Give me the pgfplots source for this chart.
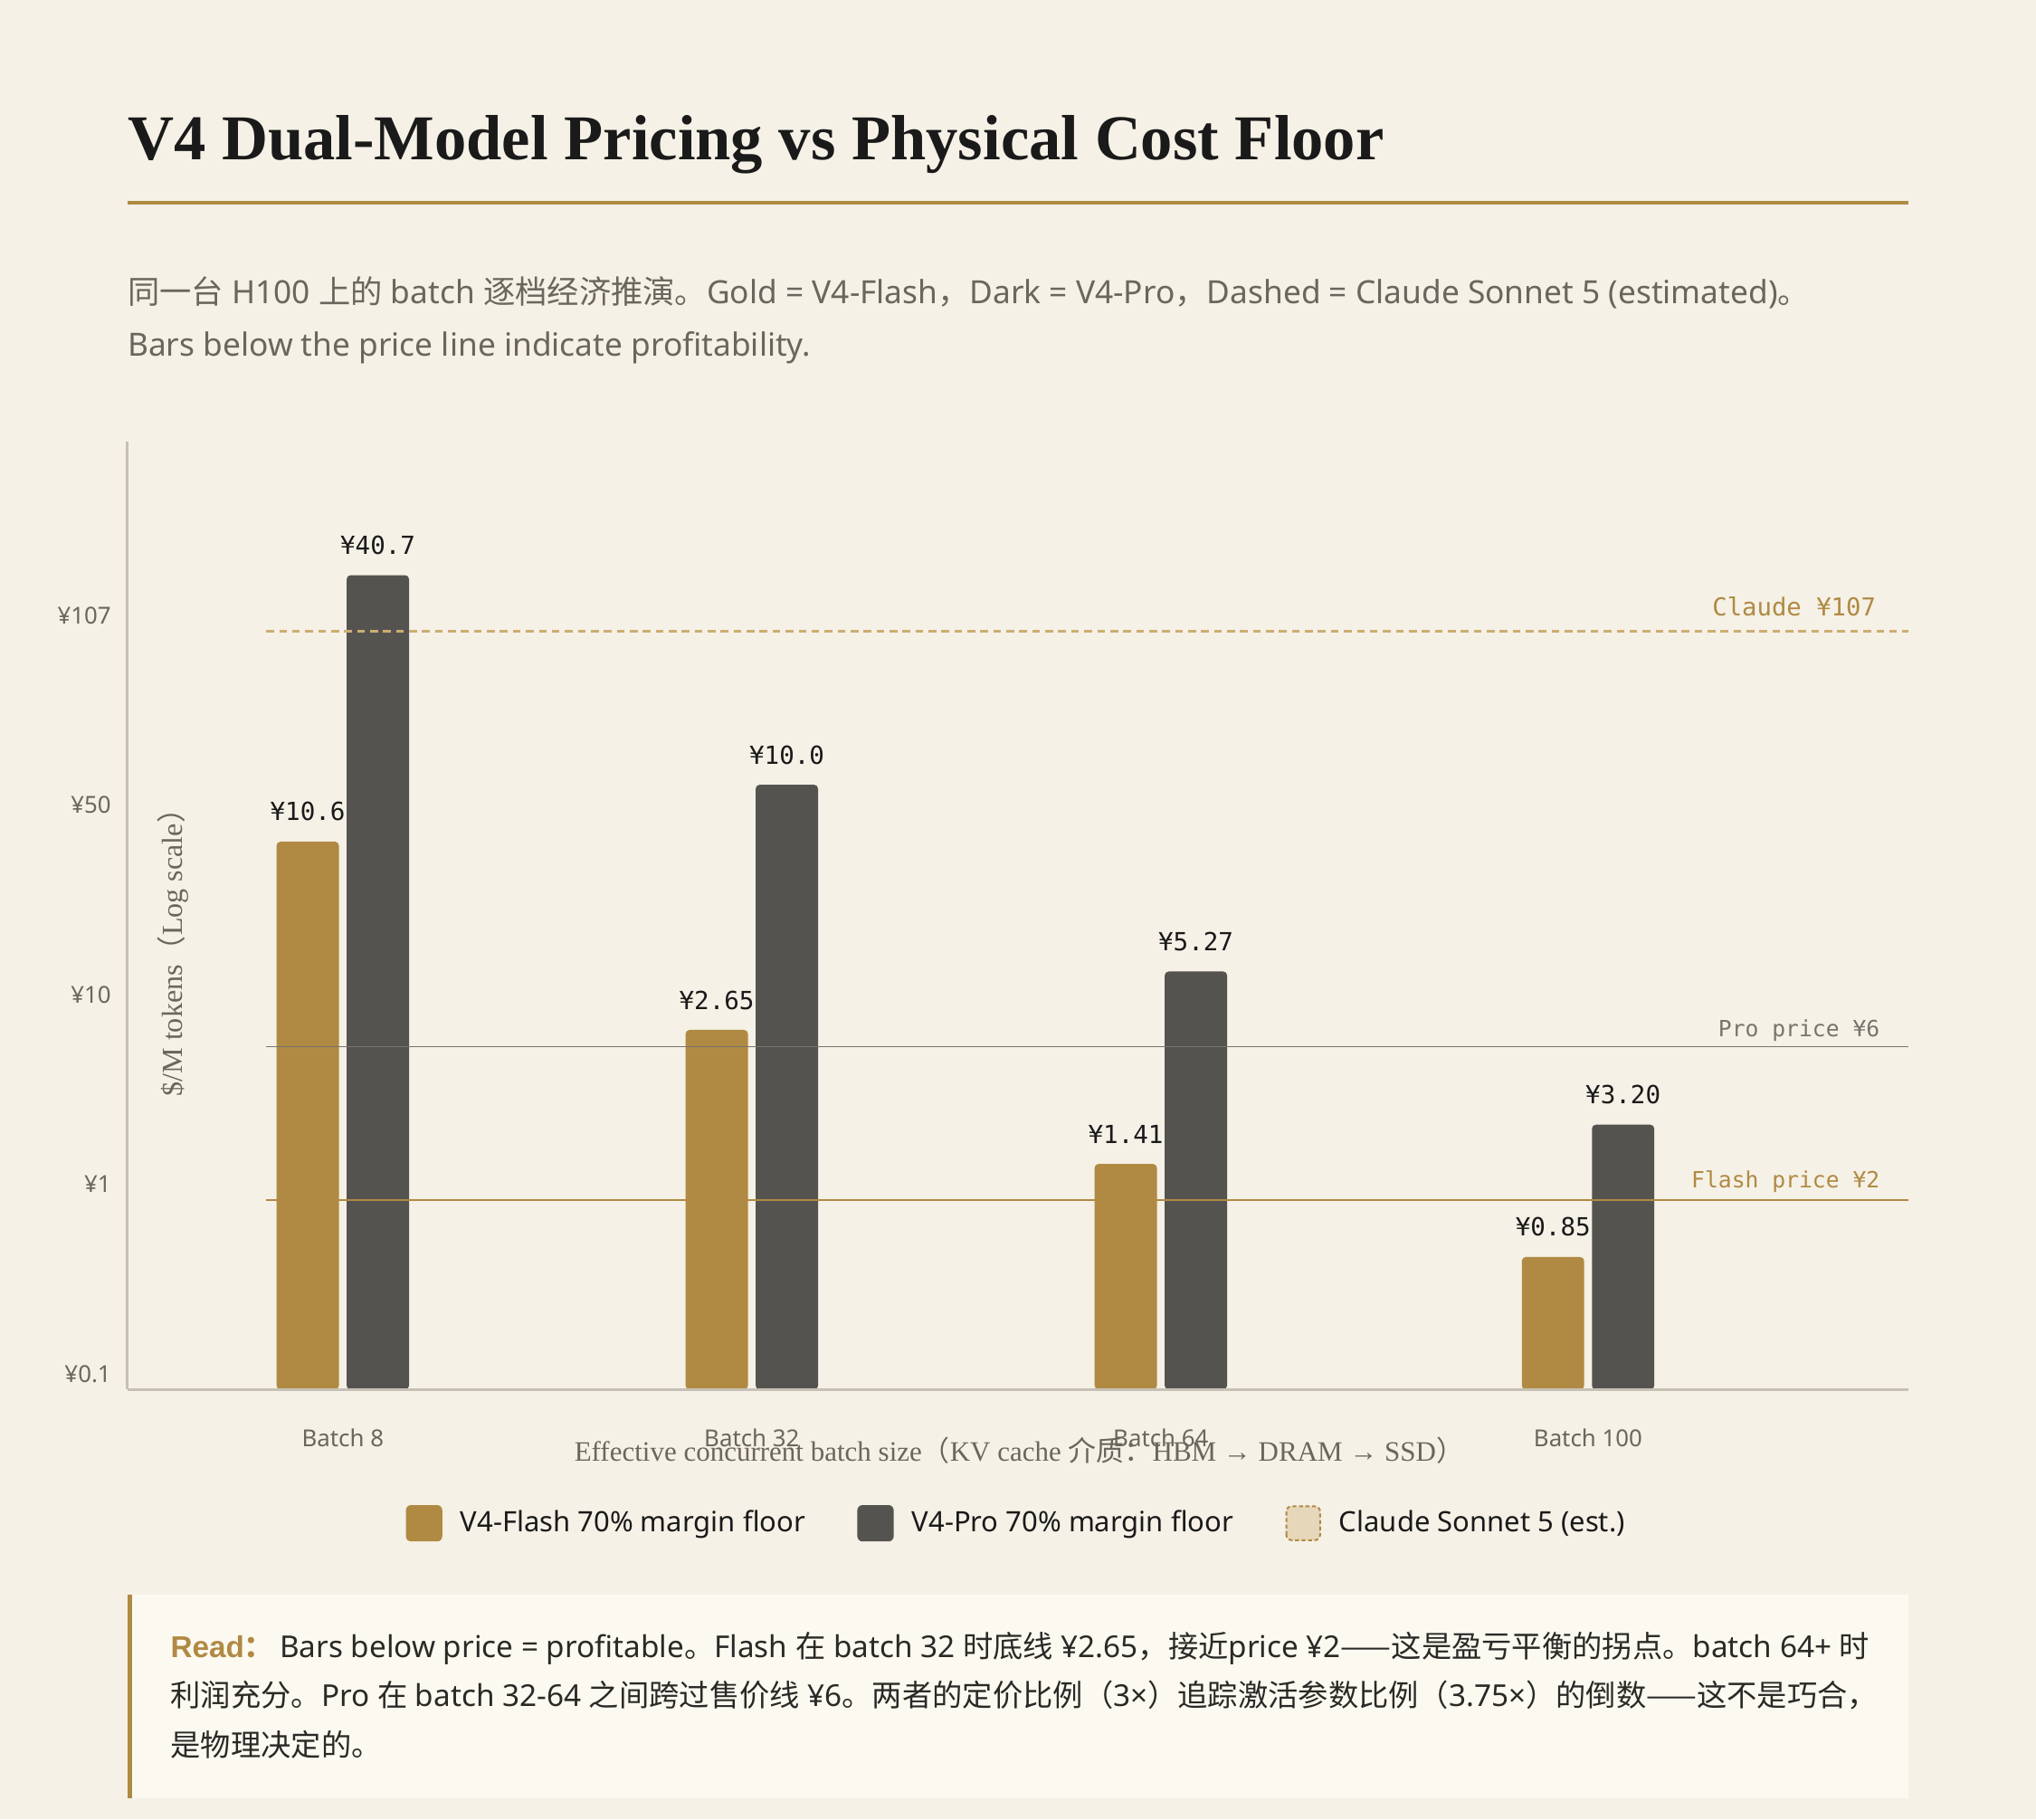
\documentclass[border=0pt]{standalone}
\usepackage{fontspec}
\usepackage{pgfplots}
\usepackage{pgfplotstable}
\pgfplotsset{compat=1.18}
\setmainfont{Noto Sans}
\newfontfamily\serif{Liberation Serif}
\newfontfamily\mono{DejaVu Sans Mono}
\newfontfamily\cjk{Noto Sans CJK SC}
\newfontfamily\boldsans{Liberation Sans}
\newcommand\zh[1]{{\cjk #1}}

\definecolor{bgc}{HTML}{F5F1E6}
\definecolor{readbg}{HTML}{FCF9F1}
\definecolor{gold}{HTML}{B08A43}
\definecolor{dark}{HTML}{55534F}
\definecolor{claudeline}{HTML}{CCAD72}
\definecolor{claudefill}{HTML}{E6D7BA}
\definecolor{proline}{HTML}{77746C}
\definecolor{axisc}{HTML}{C6C1B4}
\definecolor{graytxt}{HTML}{6B665D}
\definecolor{ink}{HTML}{1A1A1A}
\definecolor{body}{HTML}{2B2926}

% bar tops in tick steps (0 = axis floor, 1 step per tick)
\pgfplotstableread{
x y lab
264 2.89 ¥10.6
579 1.897 ¥2.65
894 1.19 ¥1.41
1223 0.699 ¥0.85
}\flash
\pgfplotstableread{
x y lab
264 4.295 ¥40.7
579 3.19 ¥10.0
894 2.205 ¥5.27
1223 1.397 ¥3.20
}\pro

\begin{document}
\begin{tikzpicture}[x=0.5pt, y=-0.5pt]
\fill[bgc] (0,0) rectangle (1568,1401);

% header
\node[anchor=base west, inner sep=0, font=\serif\bfseries\fontsize{24.6}{28}\selectfont, text=ink]
  at (98,123) {V4 Dual-Model Pricing vs Physical Cost Floor};
\draw[gold, line width=1.5pt] (98,156) -- (1470,156);
\node[anchor=base west, inner sep=0, font=\fontsize{12.3}{14}\selectfont, text=graytxt] at (98,234)
  {\zh{同一台} H100 \zh{上的} batch \zh{逐档经济推演。}Gold = V4-Flash\zh{，}Dark = V4-Pro\zh{，}Dashed = Claude Sonnet 5 (estimated)\zh{。}};
\node[anchor=base west, inner sep=0, font=\fontsize{12.3}{14}\selectfont, text=graytxt] at (98,274)
  {Bars below the price line indicate profitability.};

\coordinate (O) at (98,1070);
\begin{axis}[
  at={(O)}, anchor=south west,
  scale only axis, width=686pt, height=365pt,
  xmin=98, xmax=1470, ymin=0, ymax=5,
  axis x line*=bottom, axis y line*=left,
  axis line style={draw=axisc, line width=0.8pt, -},
  axis on top, clip=false,
  xtick={264,579,894,1223},
  xticklabels={Batch 8,Batch 32,Batch 64,Batch 100},
  ytick={0,1,2,3,4},
  yticklabels={¥0.1,¥1,¥10,¥50,¥107},
  major tick length=0pt,
  tick label style={font=\fontsize{9}{11}\selectfont, text=graytxt},
  xticklabel style={anchor=center, yshift=-18.5pt},
  yticklabel style={anchor=east, yshift=6pt, xshift=-2.7pt},
  bar width=24pt,
  legend style={at={(axis description cs:0.5,-0.141)}, anchor=center,
    draw=none, fill=none, legend columns=3,
    font=\fontsize{10.8}{13}\selectfont, text=ink,
    /tikz/every even column/.append style={column sep=18pt},
    /tikz/every odd column/.append style={column sep=5pt}},
  legend cell align=left,
]
\addplot[ybar, fill=gold, draw=none, rounded corners=1.5pt, bar shift=-13.5pt,
  nodes near coords, point meta=explicit symbolic,
  every node near coord/.append style={anchor=center, xshift=-13.5pt, yshift=11.5pt,
    font=\mono\fontsize{9.6}{11}\selectfont, text=ink},
  legend image code/.code={\fill[gold, rounded corners=2pt] (0pt,-7pt) rectangle (14pt,7pt);}]
  table[x=x, y=y, meta=lab] {\flash};
\addplot[ybar, fill=dark, draw=none, rounded corners=1.5pt, bar shift=13.5pt,
  nodes near coords, point meta=explicit symbolic,
  every node near coord/.append style={anchor=center, xshift=13.5pt, yshift=11.5pt,
    font=\mono\fontsize{9.6}{11}\selectfont, text=ink},
  legend image code/.code={\fill[dark, rounded corners=2pt] (0pt,-7pt) rectangle (14pt,7pt);}]
  table[x=x, y=y, meta=lab] {\pro};
\addplot[claudeline, line width=0.8pt, dash pattern=on 3pt off 2pt,
  legend image code/.code={\draw[gold, fill=claudefill, line width=0.7pt, dash pattern=on 1.5pt off 1pt, rounded corners=2pt] (0pt,-6.5pt) rectangle (13pt,6.5pt);}]
  coordinates {(205,4) (1470,4)};
\addplot[proline, line width=0.6pt, forget plot] coordinates {(205,1.808) (1470,1.808)};
\addplot[gold, line width=0.6pt, forget plot] coordinates {(205,1.0) (1470,1.0)};
\legend{V4-Flash 70\% margin floor, V4-Pro 70\% margin floor, Claude Sonnet 5 (est.)}

\node[anchor=base east, inner sep=0, font=\mono\fontsize{9.5}{11}\selectfont, text=gold]
  at (axis cs:1445,4) [yshift=6pt] {Claude ¥107};
\node[anchor=base east, inner sep=0, font=\mono\fontsize{8.6}{11}\selectfont, text=proline]
  at (axis cs:1448,1.808) [yshift=4pt] {Pro price ¥6};
\node[anchor=base east, inner sep=0, font=\mono\fontsize{8.6}{11}\selectfont, text=gold]
  at (axis cs:1448,1.0) [yshift=4.5pt] {Flash price ¥2};
\end{axis}

% axis titles
\node[rotate=90, inner sep=0, font=\serif\fontsize{11.2}{12}\selectfont, text=graytxt]
  at (133,728) {\$/M tokens\zh{（}Log scale\zh{）}};
\node[inner sep=0, font=\serif\fontsize{10.8}{12}\selectfont, text=graytxt]
  at (785,1117) {Effective concurrent batch size\zh{（}KV cache \zh{介质：}HBM → DRAM → SSD\zh{）}};

% read box
\fill[readbg] (98,1228) rectangle (1470,1385);
\fill[gold] (98,1228) rectangle (102,1385);
\node[anchor=base west, inner sep=0, font=\boldsans\bfseries\fontsize{11.6}{13}\selectfont, text=gold]
  at (131,1276) {Read\zh{：}};
\node[anchor=base west, inner sep=0, font=\fontsize{11.6}{13}\selectfont, text=body] at (215,1276)
  {Bars below price = profitable\zh{。}Flash \zh{在} batch 32 \zh{时底线} ¥2.65\zh{，接近}price ¥2\zh{——这是盈亏平衡的拐点。}batch 64+ \zh{时}};
\node[anchor=base west, inner sep=0, font=\fontsize{11.6}{13}\selectfont, text=body] at (131,1314)
  {\zh{利润充分。}Pro \zh{在} batch 32-64 \zh{之间跨过售价线} ¥6\zh{。两者的定价比例（}3×\zh{）追踪激活参数比例（}3.75×\zh{）的倒数——这不是巧合，}};
\node[anchor=base west, inner sep=0, font=\fontsize{11.6}{13}\selectfont, text=body] at (131,1352)
  {\zh{是物理决定的。}};
\end{tikzpicture}
\end{document}
